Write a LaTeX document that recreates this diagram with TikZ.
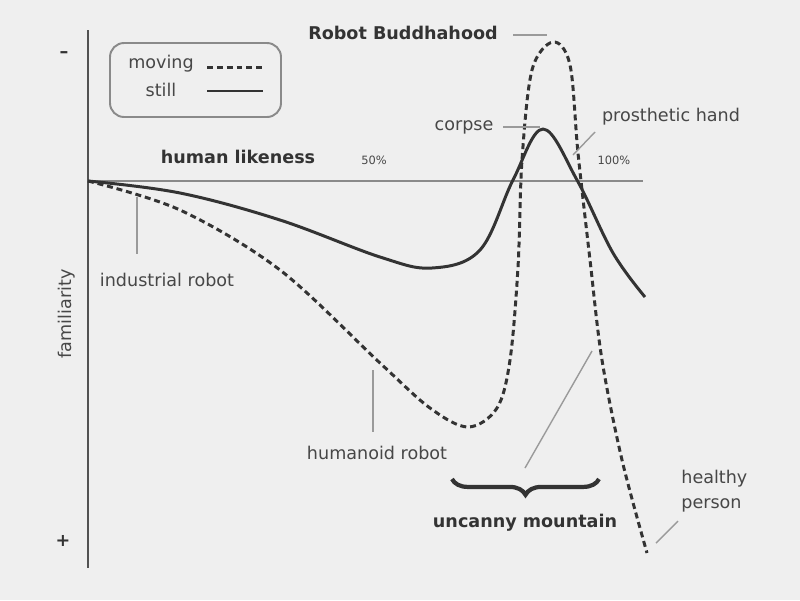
\documentclass[tikz,border=0pt]{standalone}
\usepackage{fontspec}
\setmainfont{DejaVu Sans}
\usepackage{tikz}
\usetikzlibrary{positioning,calc,decorations.pathreplacing}
\definecolor{bg}{HTML}{EFEFEF}
\definecolor{ink}{HTML}{333333}
\definecolor{txt}{HTML}{474747}
\definecolor{axisx}{HTML}{8A8A8A}
\definecolor{lead}{HTML}{9A9A9A}
\tikzset{
  still/.style={line width=1.7pt, ink, line join=round},
  moving/.style={still, dash pattern=on 3.4pt off 2.2pt},
  leader/.style={line width=0.8pt, lead},
  lbl/.style={inner sep=0pt, text=txt, font=\fontsize{10}{14.2}\selectfont},
  heading/.style={lbl, text=ink, font=\fontsize{10}{12}\selectfont\bfseries},
  pct/.style={lbl, font=\fontsize{6.5}{8}\selectfont}
}
\begin{document}
\begin{tikzpicture}[x=0.02cm,y=-0.02cm]
\fill[bg] (0,0) rectangle (800,600);
\useasboundingbox (0,0) rectangle (800,600);
% axes
\draw[line width=1.3pt, axisx] (88,181) coordinate(O) -- (643,181) coordinate(X);
\draw[line width=1.7pt, ink!85] (88,30) coordinate(T) -- (88,568) coordinate(B);
\node[heading] (minus) at (64,55) {--};
\node[heading] (plus) at (63,541) {+};
\node[lbl, rotate=90] (fam) at (67,314) {familiarity};
\node[heading] (hl) at (238,157) {human likeness};
\node[pct] (p50) at (374,160) {50\%};
\node[pct] (p100) at (614,160) {100\%};
% legend
\draw[line width=1.1pt, axisx, rounded corners=8] (110,43) rectangle (281,117);
\node[lbl] (mv) at (161,64) {moving};
\node[lbl] (st) at (161,90) {still};
\coordinate (mv1) at (207,67); \coordinate (mv2) at (263,67);
\coordinate (st1) at (207,91); \coordinate (st2) at (263,91);
\draw[moving] (mv1) -- (mv2);
\draw[still, line width=0.9pt] (st1) -- (st2);
% curves
\draw[still] plot[smooth, tension=0.6] coordinates {(88,181) (180,193) (280,220) (380,257) (432,268) (480,250) (513,180) (543,129) (577,180) (613,253) (645,297)};
\draw[moving] plot[smooth, tension=0.55] coordinates {(88,181) (180,210) (280,270) (380,363) (430,408) (468,427) (497,408) (510,360) (518,267) (522,160) (532,70) (553,42) (570,65) (578,153) (590,260) (602,360) (622,460) (647,553)};
% labels
\node[heading] (bud) at (403,33) {Robot Buddhahood};
\draw[leader] (513,35) coordinate(bud1) -- (547,35) coordinate(bud2);
\node[lbl] (cor) at (464,127) {corpse};
\draw[leader] (503,127) coordinate(cor1) -- (540,127) coordinate(cor2);
\node[lbl] (pro) at (671,117) {prosthetic hand};
\draw[leader] (595,132) coordinate(pro1) -- (573,155) coordinate(pro2);
\node[lbl] (ind) at (167,280) {industrial robot};
\draw[leader] (137,197) coordinate(ind1) -- (137,254) coordinate(ind2);
\node[lbl] (hum) at (377,453) {humanoid robot};
\draw[leader] (373,370) coordinate(hum1) -- (373,432) coordinate(hum2);
\node[lbl, align=left, anchor=west] (hp) at (681,491) {healthy\\person};
\draw[leader] (678,521) coordinate(hp1) -- (656,543) coordinate(hp2);
% brace
\draw[line width=2.4pt, ink, decorate, decoration={brace, mirror, amplitude=9pt}] (452,479) coordinate(br1) -- (599,479) coordinate(br2);
\draw[leader] (592,351) coordinate(um1) -- (525,468) coordinate(um2);
\node[heading] (um) at (525,523) {uncanny mountain};
\end{tikzpicture}
\end{document}
